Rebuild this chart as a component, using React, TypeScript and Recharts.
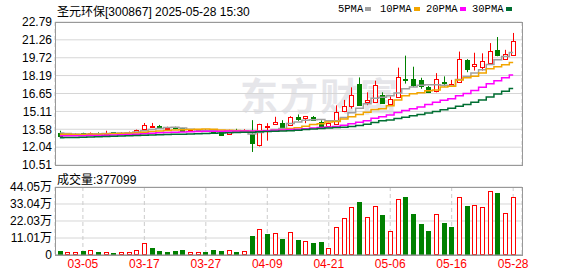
import { ComposedChart, Bar, Line, XAxis, YAxis, CartesianGrid } from "recharts"

// trading days shown in the K-line window
const dates = [
  "02-28", "03-03", "03-04", "03-05", "03-06", "03-07", "03-10", "03-11", "03-12", "03-13",
  "03-14", "03-17", "03-18", "03-19", "03-20", "03-21", "03-24", "03-25", "03-26", "03-27",
  "03-28", "03-31", "04-01", "04-02", "04-03", "04-07", "04-08", "04-09", "04-10", "04-11",
  "04-14", "04-15", "04-16", "04-17", "04-18", "04-21", "04-22", "04-23", "04-24", "04-25",
  "04-28", "04-29", "04-30", "05-06", "05-07", "05-08", "05-09", "05-12", "05-13", "05-14",
  "05-15", "05-16", "05-19", "05-20", "05-21", "05-22", "05-23", "05-26", "05-27", "05-28",
]
const tickDates = ["03-05", "03-17", "03-27", "04-09", "04-21", "05-06", "05-16", "05-28"]

const opens = [
  13.30, 13.12, 13.12, 13.24, 13.20, 13.28, 13.25, 13.32, 13.24, 13.28,
  13.34, 13.58, 13.86, 13.84, 13.64, 13.74, 13.66, 13.40, 13.46, 13.52,
  13.46, 13.32, 13.16, 13.55, 13.42, 13.15, 12.20, 13.80, 14.00, 14.10,
  13.95, 14.65, 14.50, 14.65, 14.20, 13.85, 14.00, 15.10, 15.60, 17.50,
  15.90, 15.90, 16.50, 15.80, 16.40, 17.90, 17.90, 17.85, 17.25, 16.90,
  17.60, 17.35, 17.65, 19.55, 19.05, 18.95, 19.25, 20.35, 19.65, 19.95,
]
const closes = [
  13.05, 13.18, 13.20, 13.14, 13.26, 13.20, 13.30, 13.26, 13.30, 13.34,
  13.52, 13.92, 13.90, 13.72, 13.70, 13.62, 13.40, 13.48, 13.50, 13.46,
  13.40, 13.09, 13.50, 13.46, 13.54, 12.39, 14.00, 13.85, 14.20, 13.75,
  14.65, 14.45, 14.68, 14.42, 13.85, 14.08, 15.07, 15.55, 16.55, 15.70,
  16.10, 17.40, 15.80, 16.20, 18.10, 17.80, 17.40, 17.35, 16.85, 17.90,
  17.52, 17.48, 19.65, 18.80, 19.18, 19.45, 20.30, 19.90, 20.05, 21.12,
]
const highs = [
  13.45, 13.25, 13.24, 13.28, 13.30, 13.31, 13.45, 13.34, 13.34, 13.38,
  13.55, 14.12, 14.12, 13.95, 13.80, 13.80, 13.70, 13.55, 13.54, 13.58,
  13.50, 13.36, 13.54, 13.62, 13.58, 14.36, 14.05, 14.10, 14.65, 14.36,
  14.70, 14.85, 14.72, 14.72, 14.35, 14.15, 15.63, 16.10, 17.18, 18.03,
  16.75, 17.75, 16.75, 16.40, 18.87, 19.90, 18.95, 18.00, 17.30, 18.40,
  18.12, 17.82, 20.25, 19.60, 20.15, 20.10, 20.98, 21.50, 20.40, 21.85,
]
const lows = [
  12.98, 13.08, 13.06, 13.10, 13.15, 13.16, 13.22, 13.22, 13.20, 13.24,
  13.30, 13.55, 13.84, 13.68, 13.62, 13.58, 13.36, 13.36, 13.42, 13.42,
  13.36, 13.00, 13.12, 13.44, 13.38, 11.63, 12.10, 12.60, 13.95, 13.70,
  13.90, 14.30, 14.10, 14.40, 13.70, 13.78, 13.95, 15.05, 15.35, 15.65,
  15.65, 15.85, 15.75, 15.70, 16.35, 17.50, 17.20, 17.05, 16.70, 16.75,
  17.25, 17.30, 17.60, 18.48, 18.62, 18.62, 19.15, 19.85, 19.55, 19.90,
]
// close of the day before 02-28 (not on screen)
const prevClose0 = 13.3

// volume in 万 (10k shares)
const volumes = [
  2.6, 1.7, 1.7, 2.6, 3.0, 1.9, 1.7, 1.3, 1.7, 1.7,
  3.0, 7.6, 4.5, 2.6, 1.9, 2.6, 3.2, 1.7, 1.7, 1.9,
  3.2, 2.6, 3.0, 1.9, 2.6, 12.3, 16.6, 13.6, 14.0, 10.4,
  15.1, 9.7, 9.3, 7.8, 8.4, 4.3, 18.1, 24.0, 30.9, 34.3,
  24.4, 31.5, 25.9, 15.3, 36.3, 37.6, 26.6, 20.1, 15.5, 26.4,
  20.7, 18.1, 37.4, 31.7, 32.2, 30.9, 41.3, 40.2, 27.0, 37.71,
]

const ma5 = [
  13.26, 13.22, 13.18, 13.16, 13.17, 13.19, 13.22, 13.24, 13.26, 13.28,
  13.34, 13.45, 13.56, 13.64, 13.72, 13.76, 13.68, 13.58, 13.52, 13.48,
  13.45, 13.38, 13.40, 13.40, 13.40, 13.18, 13.30, 13.42, 13.55, 13.64,
  14.08, 14.20, 14.36, 14.40, 14.42, 14.32, 14.30, 14.58, 15.00, 15.38,
  15.78, 16.25, 16.32, 16.45, 16.70, 17.05, 17.20, 17.35, 17.40, 17.40,
  17.36, 17.30, 17.85, 18.10, 18.40, 18.70, 19.15, 19.55, 19.82, 20.18,
]
const ma10 = [
  13.15, 13.14, 13.13, 13.13, 13.14, 13.15, 13.17, 13.19, 13.21, 13.23,
  13.26, 13.32, 13.38, 13.44, 13.48, 13.52, 13.54, 13.56, 13.58, 13.60,
  13.58, 13.52, 13.50, 13.48, 13.46, 13.40, 13.44, 13.44, 13.48, 13.52,
  13.64, 13.70, 13.84, 13.98, 14.06, 14.20, 14.25, 14.45, 14.65, 14.85,
  15.04, 15.27, 15.35, 15.60, 16.10, 16.45, 16.62, 16.72, 16.88, 16.96,
  17.20, 17.28, 17.82, 18.00, 18.14, 18.40, 18.78, 18.95, 19.12, 19.32,
]
const ma20 = [
  13.02, 13.02, 13.03, 13.03, 13.04, 13.05, 13.06, 13.08, 13.10, 13.12,
  13.15, 13.19, 13.23, 13.27, 13.30, 13.33, 13.35, 13.37, 13.38, 13.40,
  13.40, 13.41, 13.42, 13.43, 13.44, 13.42, 13.44, 13.46, 13.49, 13.52,
  13.55, 13.58, 13.63, 13.68, 13.72, 13.78, 13.82, 13.92, 14.05, 14.18,
  14.30, 14.52, 14.66, 14.80, 15.02, 15.20, 15.35, 15.50, 15.70, 15.90,
  16.08, 16.20, 16.45, 16.65, 16.90, 17.18, 17.48, 17.74, 18.00, 18.24,
]
const ma30 = [
  12.86, 12.87, 12.88, 12.90, 12.92, 12.94, 12.96, 12.98, 13.00, 13.02,
  13.04, 13.06, 13.08, 13.10, 13.12, 13.14, 13.16, 13.18, 13.20, 13.22,
  13.24, 13.26, 13.28, 13.30, 13.32, 13.33, 13.36, 13.38, 13.40, 13.43,
  13.46, 13.50, 13.55, 13.60, 13.64, 13.68, 13.72, 13.76, 13.82, 13.90,
  14.00, 14.16, 14.30, 14.38, 14.50, 14.62, 14.73, 14.85, 14.98, 15.10,
  15.26, 15.38, 15.55, 15.70, 15.90, 16.10, 16.36, 16.60, 16.85, 17.08,
]

const priceTicks = [10.51, 12.04, 13.58, 15.11, 16.65, 18.19, 19.72, 21.26, 22.79]
const volTicks = [0, 11.01, 22.03, 33.04, 44.05]

const RED = "#ff0000"
const GREEN = "#008000"
const FONT = '"Liberation Sans", "Noto Sans CJK SC", sans-serif'

const rows = dates.map((date, i) => ({
  date,
  open: opens[i],
  close: closes[i],
  high: highs[i],
  low: lows[i],
  vol: volumes[i],
  up: closes[i] >= (i === 0 ? prevClose0 : closes[i - 1]),
  ma5: ma5[i],
  ma10: ma10[i],
  ma20: ma20[i],
  ma30: ma30[i],
}))

const legend = [
  { name: "5PMA", color: "#a0a0a0", x: 338 },
  { name: "10PMA", color: "#f2a500", x: 380 },
  { name: "20PMA", color: "#ff00ff", x: 426 },
  { name: "30PMA", color: "#006e32", x: 472 },
]

// candle drawn from the [low, high] range bar
const Candle = (props: any) => {
  const { x, y, width, height, payload } = props
  if (x == null || !payload) return null
  const { open, close, high, low } = payload
  const top = Math.min(y, y + height)
  const h = Math.abs(height)
  const k = h / (high - low)
  const cx = Math.round(x + width / 2) + 0.5
  const yO = top + (high - open) * k
  const yC = top + (high - close) * k
  const bTop = Math.round(Math.min(yO, yC)) + 0.5
  const bH = Math.max(Math.round(Math.abs(yO - yC)), 1)
  const rising = close >= open
  const color = rising ? RED : GREEN
  return (
    <g>
      <line x1={cx} x2={cx} y1={top} y2={bTop} stroke={color} />
      <line x1={cx} x2={cx} y1={bTop + bH} y2={top + h} stroke={color} />
      <rect x={cx - 2} y={bTop} width={4} height={bH} fill={rising ? "#fff" : color} stroke={color} />
    </g>
  )
}

const VolBar = (props: any) => {
  const { x, y, width, height, payload } = props
  if (x == null || !payload) return null
  const cx = Math.round(x + width / 2) + 0.5
  const top = Math.round(y)
  const h = Math.round(y + height) - top
  if (payload.up) {
    return <rect x={cx - 2} y={top + 0.5} width={4} height={Math.max(h - 1, 0)} fill="#fff" stroke={RED} />
  }
  return <rect x={cx - 2.5} y={top} width={5} height={h} fill={GREEN} />
}

const frame = (top: number, height: number) => ({
  position: "absolute" as const,
  left: 55,
  top,
  width: 468,
  height: height + 1,
  boxSizing: "border-box" as const,
  border: "1px solid #999",
  pointerEvents: "none" as const,
})

export default function App() {
  return (
    <div style={{ position: "absolute", left: 0, top: 0, width: 578, height: 276, background: "#fff", fontFamily: FONT, overflow: "hidden" }}>
      {/* watermark */}
      <div style={{ position: "absolute", left: 240, top: 66, fontSize: 38, fontWeight: 700, color: "#e6e6ea", fontFamily: '"Noto Sans CJK SC", sans-serif', letterSpacing: 2 }}>
        东方财富
      </div>

      <div style={{ position: "absolute", left: 0, top: 0 }}>
        <ComposedChart width={578} height={180} data={rows} margin={{ top: 22, right: 56, bottom: 15, left: 0 }}>
          <CartesianGrid vertical={false} stroke="#d6d6d6" />
          <CartesianGrid horizontal={false} stroke="#cccccc" strokeDasharray="4 3" />
          <XAxis dataKey="date" ticks={tickDates} interval={0} padding={{ left: 1, right: 5 }} height={0} tick={false} tickLine={false} axisLine={false} />
          <YAxis
            domain={[10.51, 22.79]}
            ticks={priceTicks}
            interval={0}
            allowDataOverflow
            width={55}
            tickLine={false}
            axisLine={false}
            tickSize={0}
            tickMargin={3}
            tick={{ fill: "#000", fontSize: 12, fontFamily: FONT }}
            tickFormatter={(v: number) => v.toFixed(2)}
          />
          <Bar dataKey={(d: any) => [d.low, d.high]} shape={<Candle />} barSize={5} isAnimationActive={false} />
          <Line type="step" dataKey="ma5" stroke="#a0a0a0" strokeWidth={1.5} dot={false} isAnimationActive={false} />
          <Line type="step" dataKey="ma10" stroke="#f2a500" strokeWidth={1.5} dot={false} isAnimationActive={false} />
          <Line type="step" dataKey="ma20" stroke="#ff00ff" strokeWidth={1.5} dot={false} isAnimationActive={false} />
          <Line type="step" dataKey="ma30" stroke="#006e32" strokeWidth={1.5} dot={false} isAnimationActive={false} />
        </ComposedChart>
      </div>

      <div style={{ position: "absolute", left: 0, top: 170 }}>
        <ComposedChart width={578} height={106} data={rows} margin={{ top: 17, right: 56, bottom: 0, left: 0 }}>
          <CartesianGrid vertical={false} stroke="#d6d6d6" />
          <CartesianGrid horizontal={false} stroke="#cccccc" strokeDasharray="4 3" />
          <XAxis
            dataKey="date"
            ticks={tickDates}
            interval={0}
            padding={{ left: 1, right: 5 }}
            height={21}
            tickLine={false}
            tickSize={0}
            tickMargin={4}
            axisLine={{ stroke: "#999" }}
            tick={{ fill: RED, fontSize: 12, fontFamily: FONT }}
          />
          <YAxis
            domain={[0, 44.05]}
            ticks={volTicks}
            interval={0}
            allowDataOverflow
            width={55}
            tickLine={false}
            axisLine={false}
            tickSize={0}
            tickMargin={3}
            tick={{ fill: "#000", fontSize: 12, fontFamily: FONT }}
            tickFormatter={(v: number) => (v === 0 ? "0" : v.toFixed(2) + "万")}
          />
          <Bar dataKey="vol" shape={<VolBar />} barSize={5} isAnimationActive={false} />
        </ComposedChart>
      </div>

      <div style={frame(22, 143)} />
      <div style={frame(187, 68)} />

      <div style={{ position: "absolute", left: 57, top: 2, fontSize: 12, color: "#000", whiteSpace: "nowrap" }}>
        圣元环保[300867] 2025-05-28 15:30
      </div>
      {legend.map((l) => (
        <div key={l.name} style={{ position: "absolute", left: l.x, top: 3, fontSize: 11, color: "#000", whiteSpace: "nowrap", display: "flex", alignItems: "center" }}>
          <span style={{ fontFamily: '"Liberation Mono", monospace', fontSize: 10.5 }}>{l.name}</span>
          <span style={{ display: "inline-block", width: 6, height: 4, background: l.color, marginLeft: 2 }} />
        </div>
      ))}
      <div style={{ position: "absolute", left: 57, top: 170, fontSize: 12, color: "#000", whiteSpace: "nowrap" }}>
        成交量:377099
      </div>
    </div>
  )
}
